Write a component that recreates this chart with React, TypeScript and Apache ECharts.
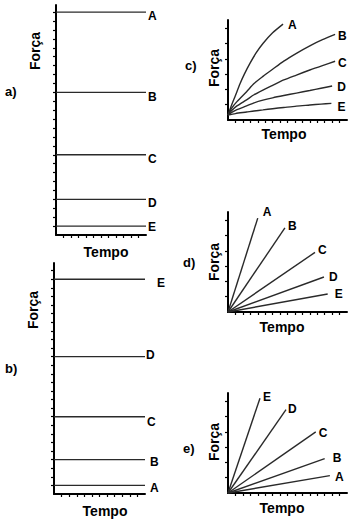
import { useEffect, useRef } from 'react';
import * as echarts from 'echarts';

// ---------- data ----------
const curveNames = ['A', 'B', 'C', 'D', 'E'];

// a) constant force levels for A..E
const forceLevelsA = [25, 16, 9, 4, 1];
// b) constant force levels for A..E
const forceLevelsB = [1, 4, 9, 16, 25];
const tempoSpanAB = [0, 12];

// c) growing curves (tempo, força)
const curveC_A = [[0, 0.33], [0.5, 1.0], [1, 1.6], [1.6, 2.35], [2.2, 3.0], [2.95, 3.7], [3.8, 4.4], [4.7, 5.0], [6, 5.7], [7.4, 6.27]];
const curveC_B = [[0, 0.33], [0.5, 0.78], [1.2, 1.2], [2.5, 1.85], [3.5, 2.38], [4.7, 2.85], [6, 3.32], [7.5, 3.85], [9.2, 4.36], [11, 4.85], [12.7, 5.25], [14.4, 5.6]];
const curveC_C = [[0, 0.33], [0.5, 0.62], [1.2, 0.92], [2.5, 1.32], [3.5, 1.65], [4.7, 1.96], [6, 2.27], [7.5, 2.62], [9.2, 2.94], [11, 3.27], [12.7, 3.56], [14.4, 3.84]];
const curveC_D = [[0, 0.33], [0.5, 0.5], [1.2, 0.68], [2.5, 0.92], [3.5, 1.12], [4.7, 1.3], [6, 1.45], [7.5, 1.6], [9.2, 1.76], [11, 1.93], [12.5, 2.08], [14, 2.22]];
const curveC_E = [[0, 0.33], [1, 0.42], [2.5, 0.52], [3.5, 0.59], [4.7, 0.66], [6, 0.74], [7.5, 0.82], [9.2, 0.91], [11, 0.98], [12.5, 1.04], [13.9, 1.09]];
const curvesC = [curveC_A, curveC_B, curveC_C, curveC_D, curveC_E];

// d) straight lines from the origin: end points for A..E
const lineStart = [0, 0];
const lineEndsD = [[4.0, 6.14], [7.65, 5.5], [11.7, 3.9], [12.9, 2.29], [13.4, 1.18]];
// e) straight lines from the origin: end points for A..E
const lineEndsE = [[13.7, 1.14], [13.0, 2.25], [11.8, 4.0], [7.8, 5.45], [4.3, 6.2]];

const panelTags = ['a)', 'b)', 'c)', 'd)', 'e)'];
const yTitle = 'Força';
const xTitle = 'Tempo';

// ---------- layout / style ----------
const FONT = '"Liberation Sans", Arial, Helvetica, sans-serif';
const ink = '#000';
const lineInk = '#2a2a2a';

const grids = [
  { left: 56, top: 5, width: 90, height: 230 },
  { left: 54, top: 263, width: 91, height: 231 },
  { left: 228, top: 20, width: 119, height: 100 },
  { left: 228, top: 212, width: 119, height: 100 },
  { left: 228, top: 393, width: 119, height: 100 },
];
const axisMax = [
  { x: 12, y: 25.8 },
  { x: 12, y: 26.9 },
  { x: 16, y: 6.54 },
  { x: 16, y: 6.54 },
  { x: 16, y: 6.54 },
];
const range = (a: number, b: number) => Array.from({ length: b - a + 1 }, (_, i) => a + i);
const tickSets = [
  { x: range(1, 11), y: range(1, 25) },
  { x: range(1, 11), y: range(1, 26) },
  { x: range(1, 15), y: range(1, 6) },
  { x: range(1, 15), y: range(1, 6) },
  { x: range(1, 15), y: range(1, 6) },
];

// label offsets [dx, dy] per panel, per series (in series order)
const labelOffsets = [
  [[2, 3.5], [2, 5], [2, 4.5], [2, 4], [2, 1]],
  [[5, 2.5], [5, 2.5], [2, 5], [1, -2], [12, 3.5]],
  [[5, 0.5], [3, 2], [3, 1.5], [5, 0.5], [6, 3.5]],
  [[5, -6], [3, -2], [3, -2], [5, 0.3], [7, 0.2]],
  [[5, 1.3], [8, -0.5], [3, 1], [2, -0.5], [3, -1]],
];

const tagPos = [[5, 91], [5, 368], [185, 65], [183, 262], [183, 448]];
const yTitlePos = [[35, 51], [33, 310], [214, 68], [214, 262], [214, 442]];
const xTitlePos = [[106, 252], [105, 511], [284, 134], [282, 327], [282, 508]];

function buildOption() {
  const xAxes: any[] = [];
  const yAxes: any[] = [];
  grids.forEach((_, i) => {
    xAxes.push({
      type: 'value',
      gridIndex: i,
      min: 0,
      max: axisMax[i].x,
      axisLine: { show: true, onZero: false, lineStyle: { color: ink, width: 2 } },
      axisTick: { show: true, customValues: tickSets[i].x, length: 3, lineStyle: { color: ink, width: 1.2 } },
      axisLabel: { show: false },
      splitLine: { show: false },
    });
    yAxes.push({
      type: 'value',
      gridIndex: i,
      min: 0,
      max: axisMax[i].y,
      axisLine: { show: true, onZero: false, lineStyle: { color: ink, width: 2 } },
      axisTick: { show: true, customValues: tickSets[i].y, length: 3, lineStyle: { color: ink, width: 1.2 } },
      axisLabel: { show: false },
      splitLine: { show: false },
    });
  });

  const mkSeries = (panel: number, k: number, data: number[][], smooth: boolean) => ({
    type: 'line',
    xAxisIndex: panel,
    yAxisIndex: panel,
    name: `${panelTags[panel]} ${curveNames[k]}`,
    data,
    smooth: smooth ? 0.25 : false,
    showSymbol: false,
    symbol: 'none',
    silent: true,
    clip: false,
    lineStyle: { color: lineInk, width: 1.4 },
    endLabel: {
      show: true,
      formatter: curveNames[k],
      distance: 0,
      offset: labelOffsets[panel][k],
      color: ink,
      fontFamily: FONT,
      fontWeight: 'bold',
      fontSize: 12,
    },
  });

  const series: any[] = [];
  forceLevelsA.forEach((f, k) => series.push(mkSeries(0, k, [[tempoSpanAB[0], f], [tempoSpanAB[1], f]], false)));
  forceLevelsB.forEach((f, k) => series.push(mkSeries(1, k, [[tempoSpanAB[0], f], [tempoSpanAB[1], f]], false)));
  curvesC.forEach((c, k) => series.push(mkSeries(2, k, c, true)));
  lineEndsD.forEach((p, k) => series.push(mkSeries(3, k, [lineStart, p], false)));
  lineEndsE.forEach((p, k) => series.push(mkSeries(4, k, [lineStart, p], false)));

  const graphics: any[] = [];
  grids.forEach((_, i) => {
    graphics.push({
      type: 'text',
      x: tagPos[i][0],
      y: tagPos[i][1],
      style: { text: panelTags[i], fill: ink, fontFamily: FONT, fontWeight: 'bold', fontSize: 13, align: 'left', verticalAlign: 'middle' },
    });
    graphics.push({
      type: 'text',
      x: yTitlePos[i][0],
      y: yTitlePos[i][1],
      rotation: Math.PI / 2,
      style: { text: yTitle, fill: ink, fontFamily: FONT, fontWeight: 'bold', fontSize: 14, align: 'center', verticalAlign: 'middle' },
    });
    graphics.push({
      type: 'text',
      x: xTitlePos[i][0],
      y: xTitlePos[i][1],
      style: { text: xTitle, fill: ink, fontFamily: FONT, fontWeight: 'bold', fontSize: 14, align: 'center', verticalAlign: 'middle' },
    });
  });

  return {
    animation: false,
    backgroundColor: '#fff',
    grid: grids.map((g) => ({ ...g, containLabel: false, outerBoundsMode: 'none' })),
    xAxis: xAxes,
    yAxis: yAxes,
    series,
    graphic: graphics,
  };
}

export default function App() {
  const ref = useRef<HTMLDivElement>(null);
  useEffect(() => {
    if (!ref.current) return;
    const chart = echarts.init(ref.current, null, { renderer: 'svg' });
    chart.setOption(buildOption() as any);
    return () => chart.dispose();
  }, []);
  return (
    <div
      ref={ref}
      style={{ position: 'fixed', left: 0, top: 0, width: 353, height: 524, background: '#fff' }}
    />
  );
}
